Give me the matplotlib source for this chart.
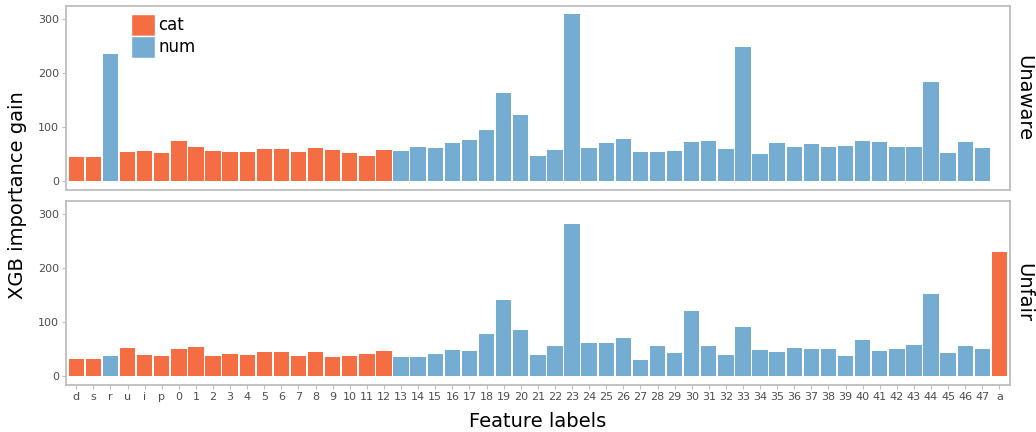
"""
XGB 特征重要性（gain）两面板条形图：Unaware / Unfair。
颜色按特征类型（cat / num）区分，x 轴为特征标签。
"""

import matplotlib
matplotlib.use("Agg")
import matplotlib.pyplot as plt
import numpy as np
from matplotlib.patches import Patch


# ---------- 数据 ----------

feature_labels = [
    "d", "s", "r", "u", "i", "p",
    "0", "1", "2", "3", "4", "5", "6", "7", "8", "9", "10", "11", "12",
    "13", "14", "15", "16", "17", "18", "19", "20", "21", "22", "23",
    "24", "25", "26", "27", "28", "29", "30", "31", "32", "33", "34",
    "35", "36", "37", "38", "39", "40", "41", "42", "43", "44", "45",
    "46", "47", "a",
]

feature_types = (
    ["cat", "cat", "num", "cat", "cat", "cat"]
    + ["cat"] * 13          # 0..12
    + ["num"] * 35          # 13..47
    + ["cat"]               # a
)

# Unaware 面板里 "a" 没有条（NaN）
gain_unaware = [
    45.5, 45.5, 235.4, 54.7, 56.5, 52.9,
    75.0, 63.9, 56.5, 54.7, 54.7, 60.2, 60.2, 54.7, 62.1, 58.4, 52.9, 47.3, 58.4,
    56.5, 63.9, 62.1, 71.3, 76.8, 95.3, 163.5, 122.9, 47.3, 58.4, 309.0,
    62.1, 71.3, 78.7, 54.7, 54.7, 56.5, 73.1, 75.0, 60.2, 248.3, 51.0,
    71.3, 63.9, 69.5, 63.9, 65.8, 75.0, 73.1, 63.9, 63.9, 183.8, 52.9,
    73.1, 62.1, np.nan,
]

gain_unfair = [
    32.6, 32.6, 38.1, 52.9, 40.0, 38.1,
    51.0, 54.7, 38.1, 41.8, 40.0, 45.5, 45.5, 38.1, 45.5, 36.3, 38.1, 41.8, 47.3,
    36.3, 36.3, 41.8, 49.2, 47.3, 78.7, 141.4, 86.0, 40.0, 56.5, 281.5,
    62.1, 62.1, 71.3, 30.7, 56.5, 43.6, 121.1, 56.5, 40.0, 91.6, 49.2,
    45.5, 52.9, 51.0, 51.0, 38.1, 67.6, 47.3, 51.0, 58.4, 152.4, 43.6,
    56.5, 51.0, 229.9,
]

panel_names = ["Unaware", "Unfair"]
y_ticks = [0, 100, 200, 300]

TYPE_COLORS = {"cat": "#F46D43", "num": "#74ADD1"}
BORDER = "#BDBDBD"
TICK_TEXT = "#4D4D4D"


# ---------- 画图 ----------

def draw_panel(ax, values, name, ylim):
    x = np.arange(len(feature_labels))
    colors = [TYPE_COLORS[t] for t in feature_types]
    ax.bar(x, values, width=0.9, color=colors, linewidth=0)
    ax.set_xlim(-0.6, len(feature_labels) - 0.4)
    ax.set_ylim(*ylim)
    ax.set_yticks(y_ticks)
    ax.set_xticks(x)
    for s in ax.spines.values():
        s.set_color(BORDER)
        s.set_linewidth(1.3)
    ax.tick_params(colors=BORDER, labelcolor=TICK_TEXT, labelsize=8,
                   length=3, width=0.8, pad=2)
    # 右侧 strip 标签（字顶朝右，从上往下读）
    ax.text(1.005, 0.5, name, transform=ax.transAxes, rotation=-90,
            ha="left", va="center", fontsize=14, color="black")


def main():
    fig = plt.figure(figsize=(10.36, 4.32), dpi=100)
    ax_top = fig.add_axes([0.0637, 0.5609, 0.9109, 0.4259])
    ax_bot = fig.add_axes([0.0637, 0.1095, 0.9109, 0.4259])

    ymax = np.nanmax([np.nanmax(gain_unaware), np.nanmax(gain_unfair)])
    ylim = (-0.05 * ymax, 1.05 * ymax)

    draw_panel(ax_top, gain_unaware, panel_names[0], ylim)
    draw_panel(ax_bot, gain_unfair, panel_names[1], ylim)

    ax_top.tick_params(axis="x", bottom=False, labelbottom=False)
    ax_bot.set_xticklabels(feature_labels)

    handles = [Patch(facecolor=TYPE_COLORS[k], edgecolor="white", label=k)
               for k in ("cat", "num")]
    ax_top.legend(handles=handles, loc="upper left",
                  bbox_to_anchor=(0.057, 1.02), frameon=False, fontsize=12,
                  handlelength=1.4, handleheight=1.65, handletextpad=0.2,
                  labelspacing=0.0, borderaxespad=0.3)

    fig.text(0.519, 0.012, "Feature labels", ha="center", va="baseline",
             fontsize=14)
    fig.text(0.008, 0.548, "XGB importance gain", ha="left", va="center",
             rotation=90, fontsize=14)

    fig.savefig("out.png", dpi=100)
    plt.close(fig)


if __name__ == "__main__":
    main()
